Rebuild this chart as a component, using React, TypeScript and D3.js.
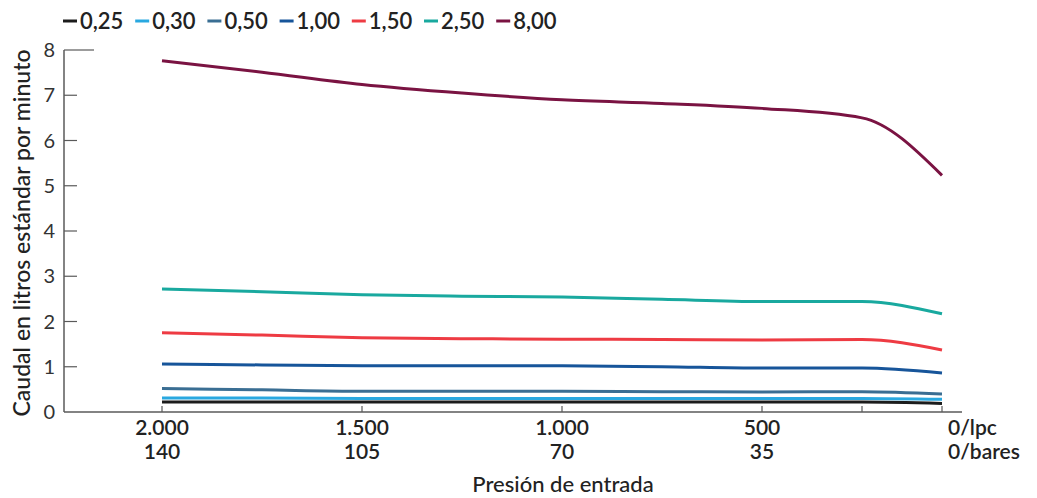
import React from 'react';
import * as d3 from 'd3';

const W = 1037;
const H = 498;

// pressure points (lpc), left to right
const pressures = [2000, 1750, 1500, 1250, 1000, 750, 500, 250, 0];
const xTicks = [2000, 1500, 1000, 500, 250, 0];
const xTickLpc = ['2.000', '1.500', '1.000', '500', '', ''];
const xTickBar = ['140', '105', '70', '35', '', ''];
const yTicks = [0, 1, 2, 3, 4, 5, 6, 7, 8];

const seriesNames = ['0,25', '0,30', '0,50', '1,00', '1,50', '2,50', '8,00'];
const seriesColors = ['#1c1c1c', '#29a8e0', '#3a6e93', '#17559a', '#ee3b43', '#19a99f', '#7a1342'];
const s025 = [0.22, 0.22, 0.22, 0.22, 0.22, 0.22, 0.22, 0.22, 0.19];
const s030 = [0.31, 0.31, 0.30, 0.30, 0.30, 0.30, 0.30, 0.30, 0.28];
const s050 = [0.52, 0.49, 0.46, 0.46, 0.46, 0.45, 0.44, 0.45, 0.40];
const s100 = [1.06, 1.04, 1.02, 1.02, 1.02, 1.00, 0.97, 0.97, 0.86];
const s150 = [1.75, 1.70, 1.64, 1.62, 1.61, 1.60, 1.59, 1.60, 1.37];
const s250 = [2.72, 2.66, 2.59, 2.56, 2.54, 2.49, 2.44, 2.44, 2.17];
const s800 = [7.76, 7.51, 7.24, 7.05, 6.90, 6.82, 6.71, 6.50, 5.23];
const seriesValues = [s025, s030, s050, s100, s150, s250, s800];

const FONT = 'Lato, "Open Sans", sans-serif';

export default function App() {
  const x = d3.scaleLinear().domain([2000, 250, 0]).range([162, 862, 942]);
  const y = d3.scaleLinear().domain([0, 8]).range([412, 50]);
  const line = d3
    .line<number>()
    .x((_, i) => x(pressures[i]))
    .y((d) => y(d))
    .curve(d3.curveMonotoneX);

  const axisColor = '#5a5a5a';
  const xAxisY = y(0);

  return (
    <div style={{ position: 'fixed', left: 0, top: 0 }}>
      <svg width={W} height={H} style={{ display: 'block', background: '#fff' }}>
        {/* legend */}
        <g fontFamily={FONT} fontSize={22} fontWeight={600} fill="#222">
          {seriesNames.map((n, i) => {
            const lx = 63 + i * 72.2;
            return (
              <g key={n}>
                <line x1={lx} x2={lx + 14} y1={21} y2={21} stroke={seriesColors[i]} strokeWidth={3} />
                <text x={lx + 17} y={28.5}>{n}</text>
              </g>
            );
          })}
        </g>

        {/* y axis */}
        <g>
          <line x1={64} x2={64} y1={y(8)} y2={xAxisY} stroke={axisColor} strokeWidth={1.5} />
          {yTicks.map((t) => (
            <g key={t}>
              {t > 0 && (
                <line x1={64} x2={t === 8 ? 94 : 77} y1={y(t)} y2={y(t)} stroke={axisColor} strokeWidth={1.2} />
              )}
              <text x={55} y={y(t)} dy="0.36em" textAnchor="end" fontFamily={FONT} fontSize={20} fill="#333">
                {t}
              </text>
            </g>
          ))}
          <text
            transform={`translate(30, ${(y(8) + xAxisY) / 2 + 2}) rotate(-90)`}
            textAnchor="middle"
            fontFamily={FONT}
            fontSize={23}
            fontWeight={500}
            fill="#222"
          >
            Caudal en litros estándar por minuto
          </text>
        </g>

        {/* x axis */}
        <g>
          <line x1={64} x2={962} y1={xAxisY} y2={xAxisY} stroke={axisColor} strokeWidth={1.5} />
          {xTicks.map((t, i) => (
            <g key={t}>
              <line x1={x(t)} x2={x(t)} y1={xAxisY - 6} y2={xAxisY} stroke={axisColor} strokeWidth={1.2} />
              <text x={x(t)} y={435} textAnchor="middle" fontFamily={FONT} fontSize={21} fontWeight={600} fill="#222">
                {xTickLpc[i]}
              </text>
              <text x={x(t)} y={459} textAnchor="middle" fontFamily={FONT} fontSize={21} fontWeight={600} fill="#222">
                {xTickBar[i]}
              </text>
            </g>
          ))}
          <text x={948} y={435} fontFamily={FONT} fontSize={21} fontWeight={600} fill="#222">0/lpc</text>
          <text x={948} y={459} fontFamily={FONT} fontSize={21} fontWeight={600} fill="#222">0/bares</text>
          <text x={563} y={492} textAnchor="middle" fontFamily={FONT} fontSize={22} fontWeight={500} fill="#222">
            Presión de entrada
          </text>
        </g>

        {/* series */}
        <g fill="none" strokeWidth={3} strokeLinecap="butt">
          {seriesValues.map((vals, i) => (
            <path key={seriesNames[i]} d={line(vals) || ''} stroke={seriesColors[i]} />
          ))}
        </g>
      </svg>
    </div>
  );
}
